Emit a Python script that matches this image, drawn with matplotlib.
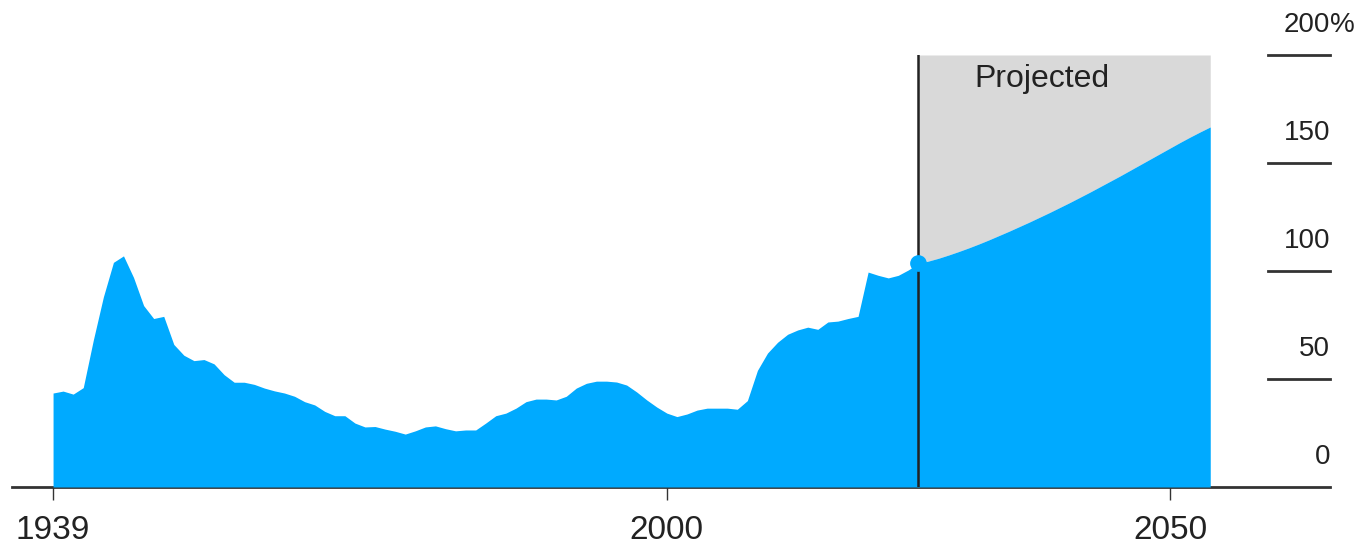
import numpy as np
import matplotlib.pyplot as plt

# Debt as % of GDP
hist_years = list(range(1939, 2025))
hist_values = [43.5, 44.4, 43.0, 46.0, 68.0, 88.0, 104.0, 107.0, 97.0, 84.0,
               78.0, 79.0, 66.0, 61.0, 58.5, 59.0, 57.0, 52.0, 48.5, 48.5,
               47.5, 45.8, 44.5, 43.5, 42.0, 39.5, 38.0, 35.0, 33.0, 33.0,
               29.6, 27.8, 28.0, 26.8, 25.8, 24.5, 26.0, 27.8, 28.3, 27.0,
               26.0, 26.4, 26.4, 29.6, 33.0, 34.2, 36.5, 39.5, 40.7, 40.7,
               40.3, 42.0, 45.8, 48.0, 49.0, 49.0, 48.6, 47.2, 44.0, 40.3,
               37.0, 34.2, 32.6, 33.8, 35.6, 36.5, 36.5, 36.5, 36.0, 40.0,
               54.0, 62.0, 67.0, 70.7, 72.7, 74.0, 73.0, 76.4, 76.8, 78.0,
               79.0, 99.5, 98.0, 96.8, 98.0, 100.5]

proj_years = list(range(2025, 2055))
proj_values = [103.5, 104.6, 105.9, 107.4, 109.0, 110.7, 112.5, 114.4, 116.4, 118.4,
               120.5, 122.6, 124.8, 127.0, 129.3, 131.6, 134.0, 136.4, 138.9, 141.4,
               143.9, 146.5, 149.1, 151.7, 154.3, 156.9, 159.5, 162.0, 164.4, 166.7]

y_ticks = [0, 50, 100, 150, 200]
y_labels = ['0', '50', '100', '150', '200%']
x_ticks = [1939, 2000, 2050]

blue = '#00AAFF'
dark = '#222222'

plt.rcParams['font.family'] = ['Liberation Sans', 'DejaVu Sans']

years = np.array(hist_years + proj_years)
values = np.array(hist_values + proj_values)

fig = plt.figure(figsize=(13.62, 5.47), dpi=100)
ax = fig.add_axes([12 / 1362, 60 / 547, 1318 / 1362, 432 / 547])
ax.set_xlim(1934.92, 2065.9)
ax.set_ylim(0, 200)

# Projected shaded area above the curve
ax.fill_between(proj_years, proj_values, 200, color='#D9D9D9', linewidth=0, zorder=1)
# Main area
ax.fill_between(years, values, 0, color=blue, linewidth=0, zorder=2)

# Divider at start of projection + marker
ax.plot([2025, 2025], [0, 200], color=dark, linewidth=1.8, zorder=3)
ax.plot([2025], [proj_values[0]], 'o', color=blue, markersize=11, zorder=4)
ax.text(2030.6, 189, 'Projected', fontsize=23, color=dark, ha='left', va='center', zorder=5)

# Baseline and right-side ticks
ax.axhline(0, color='#333333', linewidth=2, zorder=0, clip_on=False)
for yv, lab in zip(y_ticks, y_labels):
    if yv > 0:
        ax.axhline(yv, xmin=0.953, xmax=1.0, color='#333333', linewidth=2, zorder=0,
                   clip_on=False)
    ax.text(2065.9, yv + 14, lab.rstrip('%'), fontsize=20, color=dark,
            ha='right', va='center')
    if lab.endswith('%'):
        ax.text(2065.9, yv + 14, '%', fontsize=20, color=dark, ha='left', va='center')

for s in ax.spines.values():
    s.set_visible(False)
ax.set_yticks([])
ax.set_xticks(x_ticks)
ax.set_xticklabels([str(x) for x in x_ticks], fontsize=24, color=dark)
ax.tick_params(axis='x', length=9, width=1, color='#333333', pad=11)

plt.savefig('out.png', dpi=100)
